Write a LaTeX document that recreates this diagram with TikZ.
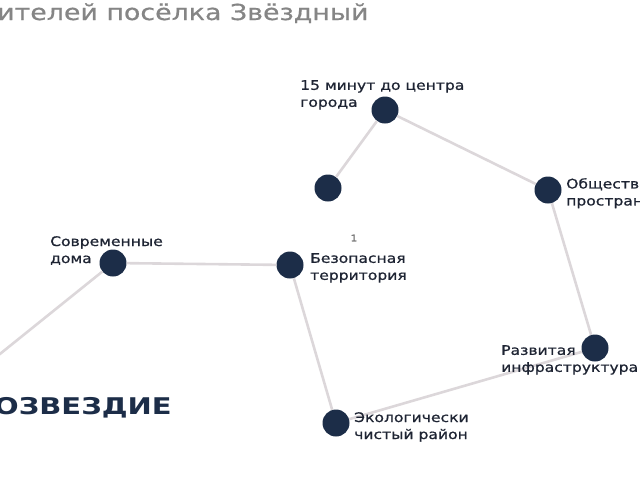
\documentclass[tikz,border=0pt]{standalone}
\usepackage{fontspec}
\setmainfont{DejaVu Sans}[FakeStretch=1.18, FakeBold=0.9]
\newfontfamily\titlefont{DejaVu Sans}[FakeStretch=1.22, FakeBold=0.6]
\newfontfamily\brandfont{DejaVu Sans Bold}[FakeStretch=1.26]
\definecolor{navy}{HTML}{1C2D48}
\definecolor{linkgray}{HTML}{DCD7DA}
\definecolor{titlegray}{HTML}{858585}
\definecolor{labelink}{HTML}{1E2433}

\begin{document}
\begin{tikzpicture}[x=1pt, y=-1pt]
    \tikzset{
      star/.style={circle, fill=navy, minimum size=27pt, inner sep=0pt},
      link/.style={draw=linkgray, line width=2.6pt},
      lbl/.style={anchor=north west, align=left, inner sep=0pt, text=labelink,
                  font=\fontsize{13.2}{17}\selectfont},
    }
    \useasboundingbox (0,0) rectangle (640,480);
    \clip (0,0) rectangle (640,480);
    % ===== headings =====
    \node[anchor=base west, inner sep=0pt, text=titlegray,
          font=\titlefont\fontsize{22}{24}\selectfont] (title) at (-3,20) {ителей посёлка Звёздный};
    \node[anchor=base west, inner sep=0pt, text=navy,
          font=\brandfont\fontsize{23}{26}\selectfont] (brand) at (-6,414) {ОЗВЕЗДИЕ};
    % ===== links =====
    \node[star] (center) at (385,110) {};
    \node[star] (lone)   at (328,188) {};
    \node[star] (public) at (548,190) {};
    \node[star] (homes)  at (113,263) {};
    \node[star] (safe)   at (290,265) {};
    \node[star] (infra)  at (595,348) {};
    \node[star] (eco)    at (336,423) {};
    \coordinate (away) at (-20,370);
    \draw[link] (lone) -- (center);
    \draw[link] (center) -- (public);
    \draw[link] (public) -- (infra);
    \draw[link] (infra) -- (eco);
    \draw[link] (eco) -- (safe);
    \draw[link] (safe) -- (homes);
    \draw[link] (homes) -- (away);
    % ===== labels =====
    \node[lbl] (centerlbl) at (300,80)  {15 минут до центра\\города};
    \node[lbl] (publiclbl) at (566,178) {Общественные\\пространства};
    \node[lbl] (homeslbl)  at (50,236)  {Современные\\дома};
    \node[lbl] (safelbl)   at (310,253) {Безопасная\\территория};
    \node[lbl] (infralbl)  at (501,345) {Развитая\\инфраструктура};
    \node[lbl] (ecolbl)    at (354,412) {Экологически\\чистый район};
    \node[text=titlegray!80!black, font=\fontsize{9}{9}\selectfont, inner sep=0pt] (mark) at (354,238) {1};
\end{tikzpicture}
\end{document}
